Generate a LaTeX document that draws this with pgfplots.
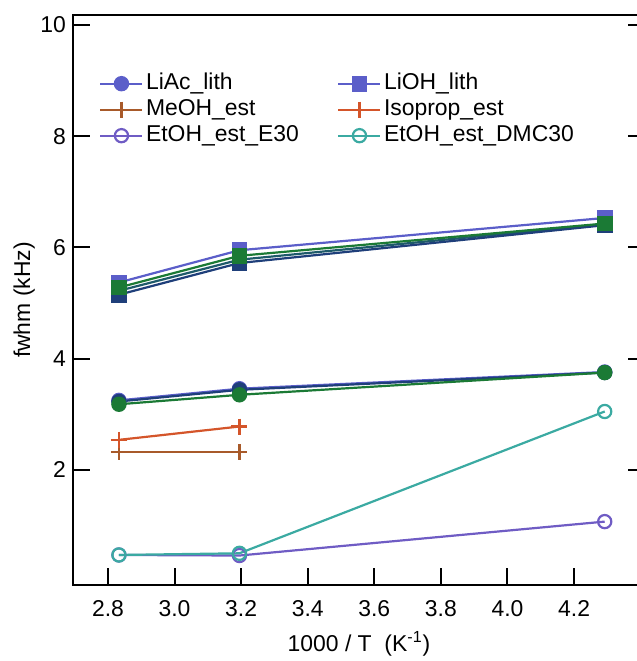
\documentclass[border=0pt]{standalone}
\usepackage{pgfplots}
\pgfplotsset{compat=1.18}
\usepackage{fontspec}
\setmainfont{Liberation Sans}
\definecolor{cbp}{HTML}{5B5EC9}
\definecolor{cbrown}{HTML}{A85A2A}
\definecolor{cred}{HTML}{D4552A}
\definecolor{cpur}{HTML}{6F5CC4}
\definecolor{cteal}{HTML}{3BAAA2}
\definecolor{cnavy}{HTML}{1F3F7A}
\definecolor{cgreen}{HTML}{1B7A35}
\definecolor{cdteal}{HTML}{1E5A6A}
\begin{document}
\begin{tikzpicture}
\begin{axis}[
  name=ax,
  scale only axis,
  width=286bp, height=285bp,
  xmin=2.695, xmax=4.413,
  ymin=-0.07, ymax=10.18,
  xtick={2.8,3.0,...,4.21},
  ytick={2,4,6,8,10},
  xticklabels={2.8,3.0,3.2,3.4,3.6,3.8,4.0,4.2},
  tick align=inside,
  xtick pos=bottom,
  ytick pos=both,
  major tick length=8.5bp,
  axis line style={line width=1.3bp},
  every tick/.style={black, line width=1bp},
  /pgf/number format/assume math mode=true,
  tick label style={font=\fontsize{11.5}{13}\selectfont},
  xticklabel style={yshift=-4bp},
  label style={font=\fontsize{11.5}{13}\selectfont},
  xlabel style={yshift=-1bp},
  ylabel style={yshift=-4bp},
  xlabel={1000 / T\ \ (K\textsuperscript{-1})},
  ylabel={fwhm (kHz)},
  legend columns=2,
  legend cell align=left,
  legend style={at={(axis description cs:0.035,0.91)}, anchor=north west, draw=none, fill=none,
    font=\fontsize{11.5}{13}\selectfont, row sep=0pt,
    nodes={inner sep=1.25bp, text height=8bp, text depth=2.5bp},
    /tikz/every even column/.append style={column sep=18bp}},
  legend image code/.code={\draw[mark repeat=2,mark phase=2] plot coordinates {(0cm,0cm) (0.37cm,0cm) (0.74cm,0cm)};},
  every axis plot/.append style={line width=1.1bp},
]
\addplot[color=cbp, mark=*, mark size=3.3bp] coordinates {(2.833,3.25) (3.195,3.46) (4.292,3.76)};
\addlegendentry{LiAc\_lith}
\addplot[color=cbp, mark=square*, mark size=3.4bp] coordinates {(2.833,5.37) (3.195,5.95) (4.292,6.53)};
\addlegendentry{LiOH\_lith}
\addplot[color=cbrown, mark=+, mark size=4bp] coordinates {(2.833,2.32) (3.195,2.32)};
\addlegendentry{MeOH\_est}
\addplot[color=cred, mark=+, mark size=4bp] coordinates {(2.833,2.54) (3.195,2.78)};
\addlegendentry{Isoprop\_est}
\addplot[color=cpur, mark=o, mark size=3.3bp] coordinates {(2.833,0.47) (3.195,0.46) (4.292,1.07)};
\addlegendentry{EtOH\_est\_E30}
\addplot[color=cteal, mark=o, mark size=3.3bp] coordinates {(2.833,0.47) (3.195,0.50) (4.292,3.05)};
\addlegendentry{EtOH\_est\_DMC30}
% unlabeled series
\addplot[forget plot, color=cdteal, mark=square*, mark size=3.4bp] coordinates {(2.833,5.22) (3.195,5.78) (4.292,6.42)};
\addplot[forget plot, color=cnavy, mark=square*, mark size=3.4bp] coordinates {(2.833,5.15) (3.195,5.72) (4.292,6.40)};
\addplot[forget plot, color=cgreen, mark=square*, mark size=3.4bp] coordinates {(2.833,5.28) (3.195,5.85) (4.292,6.43)};
\addplot[forget plot, color=cnavy, mark=*, mark size=3.3bp] coordinates {(2.833,3.23) (3.195,3.44) (4.292,3.75)};
\addplot[forget plot, color=cgreen, mark=*, mark size=3.3bp] coordinates {(2.833,3.18) (3.195,3.35) (4.292,3.75)};
\end{axis}
\pgfresetboundingbox
\path[use as bounding box] ([xshift=-36.5bp,yshift=-38bp]ax.south west) rectangle ([xshift=-4bp,yshift=7.5bp]ax.north east);
\end{tikzpicture}
\end{document}
